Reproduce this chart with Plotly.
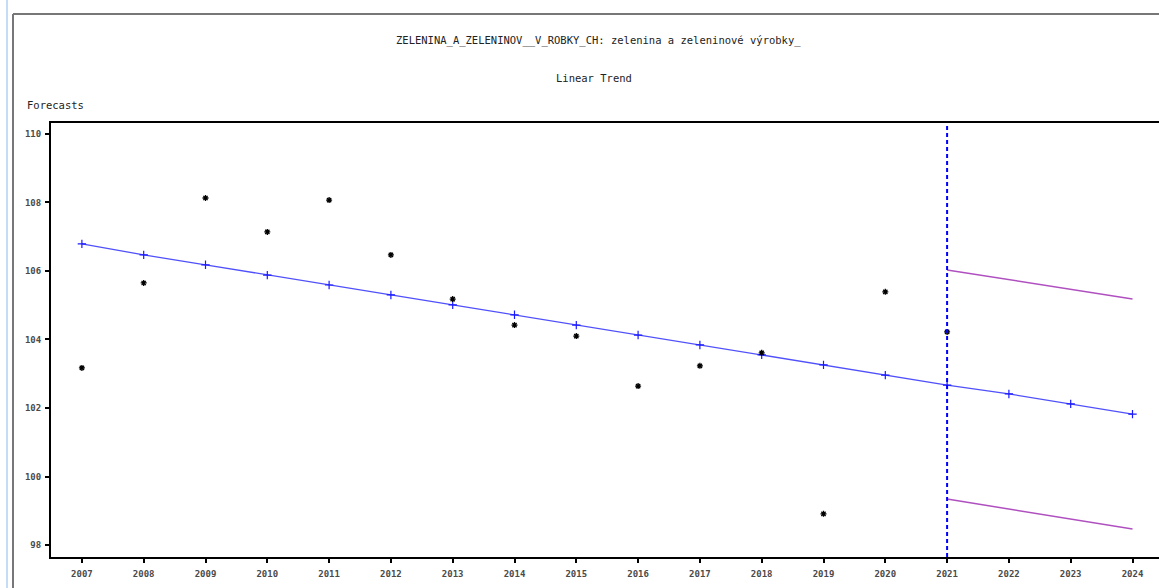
import plotly.graph_objects as go

years_actual = [2007, 2008, 2009, 2010, 2011, 2012, 2013, 2014, 2015, 2016, 2017, 2018, 2019, 2020, 2021]
actual = [103.17, 105.65, 108.13, 107.14, 108.07, 106.47, 105.18, 104.42, 104.10, 102.64, 103.23, 103.61, 98.91, 105.39, 104.22]

years_trend = list(range(2007, 2025))
trend = [106.79, 106.47, 106.18, 105.88, 105.59, 105.30, 105.01, 104.72, 104.42, 104.13,
         103.84, 103.55, 103.26, 102.96, 102.67, 102.41, 102.12, 101.82]

years_fc = [2021, 2022, 2023, 2024]
upper = [106.03, 105.75, 105.46, 105.18]
lower = [99.34, 99.05, 98.76, 98.47]

forecast_start = 2021
x_ticks = list(range(2007, 2025))
y_ticks = [98, 100, 102, 104, 106, 108, 110]

W, H = 1159, 588
L, R, T, B = 51, 0, 123, 31
pw = W - L - R
ph = H - T - B

def px(x):
    return (x - L) / pw

def py(y):
    return (H - B - y) / ph

fig = go.Figure()

fig.add_trace(go.Scatter(x=years_trend, y=trend, mode="lines+markers",
                         line=dict(color="#5050ff", width=1.3),
                         marker=dict(symbol="cross-thin", size=6, line=dict(color="#1a1aff", width=1.2)),
                         showlegend=False))
fig.add_trace(go.Scatter(x=years_fc, y=upper, mode="lines",
                         line=dict(color="#b050c0", width=1.5), showlegend=False))
fig.add_trace(go.Scatter(x=years_fc, y=lower, mode="lines",
                         line=dict(color="#b050c0", width=1.5), showlegend=False))
fig.add_trace(go.Scatter(x=years_actual, y=actual, mode="markers",
                         marker=dict(symbol="asterisk", size=5, line=dict(color="#000000", width=1.3)),
                         showlegend=False))

fig.add_shape(type="line", x0=forecast_start, x1=forecast_start, xref="x", y0=0, y1=1, yref="paper",
              line=dict(color="#0000ff", width=2, dash="4px,3px"))

# outer window frame
fig.add_shape(type="line", xref="paper", yref="paper", x0=px(13), x1=px(13), y0=py(14), y1=py(588),
              line=dict(color="#777777", width=2))
fig.add_shape(type="line", xref="paper", yref="paper", x0=px(13), x1=px(1159), y0=py(14), y1=py(14),
              line=dict(color="#777777", width=2))
fig.add_shape(type="line", xref="paper", yref="paper", x0=px(7), x1=px(7), y0=py(0), y1=py(588),
              line=dict(color="#c6dbf5", width=2))

tfont = dict(family="DejaVu Sans Mono", size=10.5, color="#222222")
fig.add_annotation(text="ZELENINA_A_ZELENINOV__V_ROBKY_CH: zelenina a zeleninové výrobky_",
                   xref="paper", yref="paper", x=px(598), y=py(40), showarrow=False,
                   xanchor="center", yanchor="middle", font=tfont)
fig.add_annotation(text="Linear Trend", xref="paper", yref="paper", x=px(594), y=py(78),
                   showarrow=False, xanchor="center", yanchor="middle", font=tfont)
fig.add_annotation(text="Forecasts", xref="paper", yref="paper", x=px(25), y=py(105),
                   showarrow=False, xanchor="left", yanchor="middle", font=tfont)

axfont = dict(family="DejaVu Sans Mono", size=9, color="#4a4a4a", weight="bold")
fig.update_xaxes(range=[2006.5, 2006.5 + pw / 61.8], tickmode="array", tickvals=x_ticks,
                 ticktext=[str(v) for v in x_ticks], showgrid=False, zeroline=False,
                 showline=True, linecolor="#000000", linewidth=2, mirror=True,
                 ticks="outside", ticklen=4, tickwidth=2, tickcolor="#000000", tickfont=axfont,
                 ticklabelstandoff=3)
fig.update_yaxes(range=[97.65, 110.32], tickmode="array", tickvals=y_ticks,
                 ticktext=[str(v) for v in y_ticks], showgrid=False, zeroline=False,
                 showline=True, linecolor="#000000", linewidth=2, mirror=False,
                 ticks="outside", ticklen=4, tickwidth=2, tickcolor="#000000", tickfont=axfont,
                 ticklabelstandoff=2)

fig.update_layout(width=W, height=H, margin=dict(l=L, r=R, t=T, b=B, pad=0),
                  plot_bgcolor="#ffffff", paper_bgcolor="#ffffff")

fig.write_html("out.html", config={"displayModeBar": False},
               post_script="document.body.style.margin='0';"
                           "document.body.style.overflow='hidden';"
                           "document.documentElement.style.overflow='hidden';")
